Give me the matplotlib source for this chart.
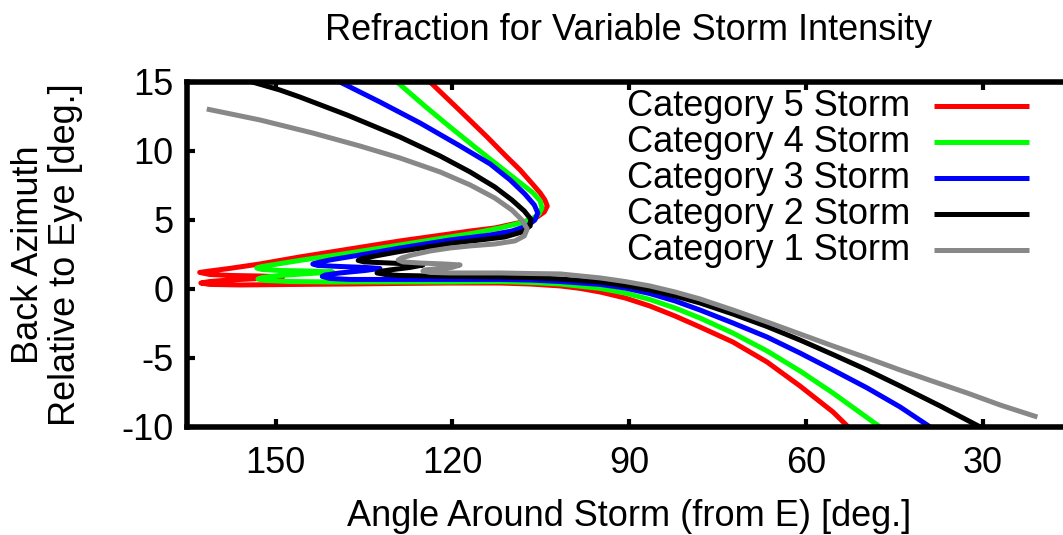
import matplotlib
matplotlib.use("Agg")
import matplotlib.pyplot as plt

plt.rcParams["font.family"] = ["Liberation Sans", "DejaVu Sans"]
plt.rcParams["font.size"] = 26
plt.rcParams["axes.unicode_minus"] = False

# angle around storm (deg, from E) and back azimuth relative to eye (deg)
cat5_angle = [123.8, 119.0, 114.1, 111.1, 108.5, 106.7, 105.1, 104.3, 103.9, 104.4,
              105.6, 107.3, 109.7, 112.8, 117.0, 120.4, 128.9, 137.4, 145.9, 152.7,
              157.8, 161.2, 162.9, 161.2, 157.8, 152.7, 148.8, 152.7, 157.8, 161.2,
              162.7, 161.2, 156.1, 145.9, 137.4, 128.9, 120.4, 111.9, 106.8, 101.7,
              98.3, 94.9, 90.7, 86.5, 82.2, 78.0, 72.4, 66.6, 61.0, 55.4, 52.8]
cat5_az = [15.0, 13.04, 11.01, 9.71, 8.62, 7.75, 6.96, 6.45, 6.01, 5.58,
           5.22, 4.93, 4.71, 4.42, 4.20, 3.99, 3.48, 2.90, 2.32, 1.81,
           1.49, 1.30, 1.20, 1.05, 0.98, 0.94, 0.87, 0.76, 0.65, 0.54,
           0.43, 0.33, 0.29, 0.33, 0.36, 0.40, 0.43, 0.43, 0.36, 0.22,
           0.04, -0.22, -0.65, -1.23, -1.96, -2.75, -3.84, -5.29, -7.03, -8.91, -10.0]

cat4_angle = [129.4, 124.7, 120.4, 116.2, 111.9, 108.9, 106.3, 105.1, 104.8, 105.3,
              106.5, 108.5, 111.9, 116.2, 120.4, 128.9, 137.4, 145.9, 150.1, 152.3,
              153.2, 152.3, 149.3, 144.2, 140.3, 144.2, 149.3, 152.3, 153.0, 151.8,
              147.6, 140.8, 128.9, 120.4, 111.9, 106.8, 101.7, 94.9, 90.7, 86.5,
              82.2, 78.0, 72.4, 66.6, 61.0, 55.4, 47.4]
cat4_az = [15.0, 13.26, 11.74, 10.29, 8.84, 7.83, 6.96, 6.38, 5.87, 5.43,
           5.07, 4.78, 4.42, 4.06, 3.77, 3.19, 2.61, 2.07, 1.78, 1.63,
           1.52, 1.41, 1.34, 1.30, 1.23, 1.12, 0.98, 0.83, 0.72, 0.62,
           0.54, 0.51, 0.51, 0.51, 0.54, 0.47, 0.36, 0.04, -0.29, -0.76,
           -1.38, -2.10, -3.19, -4.49, -5.94, -7.54, -10.0]

cat3_angle = [139.1, 132.3, 125.5, 118.7, 113.6, 110.2, 107.7, 106.1, 105.5, 106.0,
              107.3, 109.9, 113.6, 120.4, 128.9, 135.7, 140.8, 142.8, 143.7, 142.8,
              139.1, 134.8, 132.3, 134.8, 139.1, 141.6, 142.1, 140.8, 137.4, 128.9,
              120.4, 111.9, 106.8, 101.7, 94.9, 90.7, 86.5, 82.2, 78.0, 72.4,
              66.6, 61.0, 55.4, 49.6, 44.0, 38.9]
cat3_az = [15.0, 13.55, 12.03, 10.36, 9.06, 7.90, 6.88, 6.09, 5.51, 5.0,
           4.57, 4.20, 3.91, 3.55, 2.97, 2.46, 2.10, 1.92, 1.81, 1.70,
           1.63, 1.56, 1.49, 1.34, 1.16, 1.01, 0.91, 0.76, 0.69, 0.69,
           0.69, 0.69, 0.65, 0.54, 0.33, 0.07, -0.33, -0.87, -1.52, -2.46,
           -3.48, -4.64, -5.87, -7.17, -8.55, -10.0]

cat2_angle = [154.0, 149.3, 145.9, 137.9, 128.9, 122.1, 117.0, 112.8, 109.9, 107.8,
              106.7, 106.8, 108.2, 111.1, 115.3, 120.4, 128.9, 133.1, 135.3, 136.0,
              135.0, 130.6, 127.2, 125.0, 127.2, 130.6, 132.3, 132.8, 131.4, 128.9,
              120.4, 111.9, 106.8, 101.7, 94.9, 90.7, 86.5, 82.2, 78.0, 72.4,
              66.6, 61.0, 55.4, 49.6, 44.0, 37.2, 30.4]
cat2_az = [15.0, 14.42, 13.91, 12.61, 11.01, 9.64, 8.48, 7.39, 6.45, 5.65,
           5.07, 4.57, 4.13, 3.77, 3.55, 3.30, 2.72, 2.39, 2.21, 2.07,
           1.96, 1.88, 1.81, 1.74, 1.56, 1.38, 1.27, 1.16, 1.05, 0.98,
           0.91, 0.87, 0.83, 0.72, 0.51, 0.25, -0.07, -0.51, -1.01, -1.81,
           -2.72, -3.70, -4.75, -5.87, -7.03, -8.48, -10.0]

cat1_angle = [161.7, 152.7, 143.7, 135.7, 128.9, 122.1, 117.0, 112.8, 109.9, 108.2,
              107.3, 107.8, 109.4, 112.8, 117.0, 120.4, 123.8, 126.9, 128.6, 129.2,
              128.4, 125.5, 121.3, 118.7, 120.1, 123.0, 124.7, 125.0, 123.8, 120.4,
              111.9, 106.8, 101.7, 94.9, 90.7, 86.5, 82.2, 78.0, 72.4, 66.6,
              61.0, 55.4, 49.6, 44.0, 38.1, 32.6, 27.0, 20.7]
cat1_az = [13.04, 12.25, 11.30, 10.36, 9.49, 8.48, 7.54, 6.59, 5.72, 5.0,
           4.35, 3.84, 3.48, 3.26, 3.12, 2.97, 2.75, 2.46, 2.25, 2.10,
           1.96, 1.88, 1.81, 1.74, 1.56, 1.45, 1.38, 1.30, 1.20, 1.16,
           1.16, 1.12, 1.09, 0.80, 0.54, 0.22, -0.22, -0.72, -1.52, -2.39,
           -3.26, -4.13, -5.0, -5.87, -6.74, -7.54, -8.41, -9.28]

labels = ["Category 5 Storm", "Category 4 Storm", "Category 3 Storm",
          "Category 2 Storm", "Category 1 Storm"]
colors = ["#ff0000", "#00ff00", "#0000ff", "#000000", "#888888"]
series = [(cat5_angle, cat5_az), (cat4_angle, cat4_az), (cat3_angle, cat3_az),
          (cat2_angle, cat2_az), (cat1_angle, cat1_az)]

fig = plt.figure(figsize=(10.63, 5.35), dpi=100)
ax = fig.add_axes([0.1762, 0.2019, 0.8313, 0.6449])

for (xs, ys), c in zip(series, colors):
    ax.plot(xs, ys, color=c, lw=3.6, solid_joinstyle="round", solid_capstyle="butt")

ax.set_xlim(165, 15)
ax.set_ylim(-10, 15)
ax.set_xticks([150, 120, 90, 60, 30])
ax.set_yticks([-10, -5, 0, 5, 10, 15])
ax.tick_params(direction="in", top=True, right=True, length=6, width=3)
ax.tick_params(axis="x", pad=14)
ax.tick_params(axis="y", pad=10)
for s in ax.spines.values():
    s.set_linewidth(4)

# key: text on the left, sample line on the right
for i, (lab, c) in enumerate(zip(labels, colors)):
    yk = 0.929 - i * 0.1043
    ax.text(0.8178, yk, lab, transform=ax.transAxes, ha="right", va="center")
    ax.plot([0.8452, 0.9527], [yk, yk], transform=ax.transAxes, color=c, lw=3.6,
            solid_capstyle="butt", clip_on=False)

fig.text(629 / 1063, 1 - 30 / 535, "Refraction for Variable Storm Intensity",
         ha="center", va="center")
fig.text(629 / 1063, 1 - 516 / 535, "Angle Around Storm (from E) [deg.]",
         ha="center", va="center")
fig.text(47 / 1063, 1 - 255 / 535, "Back Azimuth\nRelative to Eye [deg.]",
         ha="center", va="center", rotation=90, multialignment="center",
         linespacing=1.05)

fig.savefig("out.png", dpi=100)
